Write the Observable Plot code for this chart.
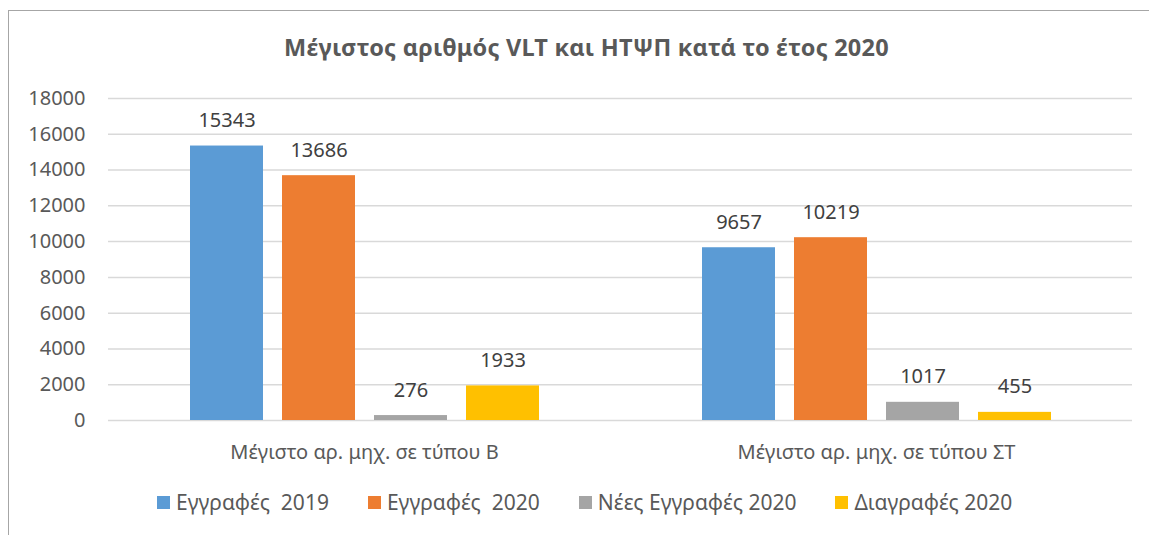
<!DOCTYPE html>
<html>
<head>
<meta charset="utf-8">
<script src="https://cdn.jsdelivr.net/npm/d3@7"></script>
<script src="https://cdn.jsdelivr.net/npm/@observablehq/plot@0.6"></script>
<style>
  html, body { margin: 0; padding: 0; background: #fff; width: 1149px; height: 535px; overflow: hidden; }
  body { font-family: "Noto Sans", sans-serif; position: relative; }
  #frame { position: absolute; left: 8px; top: 10px; width: 1170px; height: 560px; border: 1px solid #a6a6a6; box-sizing: border-box; }
  #title { position: absolute; left: 284px; top: 31px; white-space: nowrap; font-size: 23.5px; font-weight: bold; letter-spacing: 0.2px; color: #595959; }
  #chart { position: absolute; left: 0; top: 80px; }
  #legend { position: absolute; left: 157px; top: 488px; display: flex; gap: 39px; font-size: 21px; color: #595959; white-space: nowrap; }
  .item { display: flex; align-items: center; white-space: pre; }
  .sw { width: 13px; height: 13px; margin-right: 6px; }
</style>
</head>
<body>
<div id="frame"></div>
<div id="title">Μέγιστος αριθμός VLT και ΗΤΨΠ κατά το έτος 2020</div>
<div id="chart"></div>
<div id="legend"></div>
<script>
const categories = ["Μέγιστο αρ. μηχ. σε τύπου Β", "Μέγιστο αρ. μηχ. σε τύπου ΣΤ"];
const series = ["Εγγραφές  2019", "Εγγραφές  2020", "Νέες Εγγραφές 2020", "Διαγραφές 2020"];
const valuesB = [15343, 13686, 276, 1933];
const valuesST = [9657, 10219, 1017, 455];
const colors = ["#5b9bd5", "#ed7d31", "#a5a5a5", "#ffc000"];
const yTicks = [0, 2000, 4000, 6000, 8000, 10000, 12000, 14000, 16000, 18000];

const data = [];
series.forEach((s, i) => {
  data.push({cat: categories[0], series: s, value: valuesB[i]});
  data.push({cat: categories[1], series: s, value: valuesST[i]});
});

const chart = Plot.plot({
  width: 1149,
  height: 390,
  marginLeft: 108,
  marginRight: 17,
  marginTop: 18,
  marginBottom: 50,
  style: {fontFamily: "Noto Sans, sans-serif", fontSize: "20px", color: "#595959", background: "transparent", overflow: "visible"},
  fx: {domain: categories, padding: 0, label: null, axis: null},
  x: {domain: series, axis: null, paddingInner: 0.21, paddingOuter: 0.878},
  y: {domain: [0, 18000], label: null, axis: null},
  color: {domain: series, range: colors},
  marks: [
    Plot.gridY(yTicks, {stroke: "#d9d9d9", strokeOpacity: 1, strokeWidth: 1.5}),
    Plot.barY(data, {fx: "cat", x: "series", y: "value", fill: "series"}),
    Plot.text(data, {fx: "cat", x: "series", y: "value", text: d => String(d.value), dy: -19, lineAnchor: "bottom", fontSize: 20, fill: "#404040"}),
    Plot.axisY(yTicks, {tickSize: 0, tickPadding: 23, fontSize: 20, tickFormat: d => String(d), label: null}),
    Plot.axisFx({anchor: "bottom", tickSize: 0, tickPadding: 24, fontSize: 20, label: null})
  ]
});
document.getElementById("chart").appendChild(chart);

const legend = document.getElementById("legend");
series.forEach((s, i) => {
  const it = document.createElement("div");
  it.className = "item";
  const sw = document.createElement("span");
  sw.className = "sw";
  sw.style.background = colors[i];
  const t = document.createElement("span");
  t.textContent = s;
  it.appendChild(sw);
  it.appendChild(t);
  legend.appendChild(it);
});
</script>
</body>
</html>
